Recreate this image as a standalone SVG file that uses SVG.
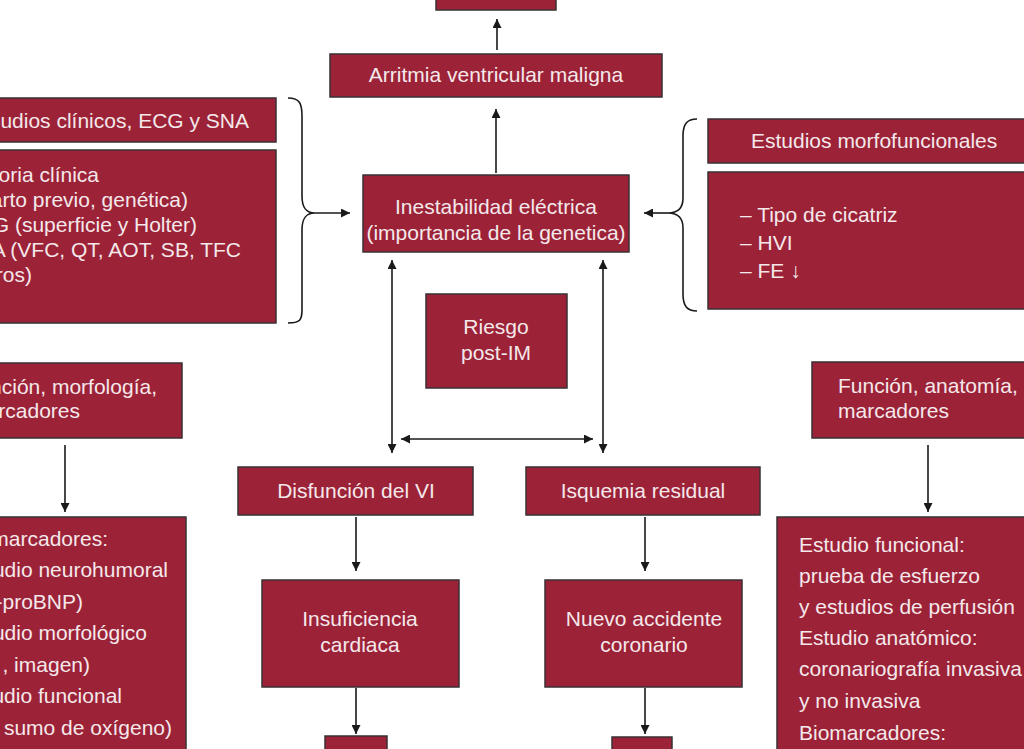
<svg xmlns="http://www.w3.org/2000/svg" width="1024" height="749" viewBox="0 0 1024 749">
<style>
.box{fill:#9c2238;stroke:#3a3035;stroke-width:1.5}
.t{font-family:"Liberation Sans",Arial,sans-serif;font-size:21px;fill:#f4e8ea}
.c{text-anchor:middle}
.e{text-anchor:end}
.ln{stroke:#1a1a1a;stroke-width:1.6;fill:none}
</style>
<defs>
<marker id="ah" viewBox="0 0 10 10" refX="10" refY="5" markerWidth="9" markerHeight="9" markerUnits="userSpaceOnUse" orient="auto-start-reverse">
<path d="M0,0 L10,5 L0,10 Z" fill="#1a1a1a"/>
</marker>
</defs>
<rect width="1024" height="749" fill="#ffffff"/>

<g id="top-box"><rect class="box" x="436" y="-5" width="120" height="15"/></g>
<g id="arritmia"><rect class="box" x="330" y="54" width="332" height="43"/><text class="t c" x="496" y="82">Arritmia ventricular maligna</text></g>
<g id="inestabilidad"><rect class="box" x="363" y="175" width="266" height="77"/><text class="t c" x="496" y="214">Inestabilidad eléctrica</text><text class="t c" x="496" y="240">(importancia de la genetica)</text></g>
<g id="riesgo"><rect class="box" x="426" y="294" width="141" height="94"/><text class="t c" x="496" y="334">Riesgo</text><text class="t c" x="496" y="360">post-IM</text></g>

<g id="estudios-clinicos"><rect class="box" x="-5" y="98" width="281" height="44"/><text class="t e" x="249" y="128">udios clínicos, ECG y SNA</text></g>
<g id="historia"><rect class="box" x="-5" y="150" width="281" height="173"/>
<text class="t e" x="99" y="182">oria clínica</text>
<text class="t e" x="188" y="207">arto previo, genética)</text>
<text class="t e" x="197" y="232">G (superficie y Holter)</text>
<text class="t e" x="241" y="257">A (VFC, QT, AOT, SB, TFC</text>
<text class="t e" x="32" y="282">ros)</text></g>

<g id="morfofuncionales"><rect class="box" x="708" y="119" width="325" height="44"/><text class="t" x="751" y="148">Estudios morfofuncionales</text></g>
<g id="cicatriz"><rect class="box" x="708" y="172" width="325" height="137"/>
<text class="t" x="740" y="222">– Tipo de cicatriz</text>
<text class="t" x="740" y="250">– HVI</text>
<text class="t" x="740" y="278">– FE ↓</text></g>

<g id="funcion-morfologia"><rect class="box" x="-5" y="363" width="187" height="75"/><text class="t e" x="157" y="394">nción, morfología,</text><text class="t e" x="80" y="418">rcadores</text></g>
<g id="biomarcadores-izq"><rect class="box" x="-5" y="517" width="191" height="240"/>
<text class="t e" x="108" y="546">marcadores:</text>
<text class="t e" x="168" y="577">udio neurohumoral</text>
<text class="t e" x="83" y="609">-proBNP)</text>
<text class="t e" x="147" y="640">udio morfológico</text>
<text class="t e" x="90" y="672">, imagen)</text>
<text class="t e" x="122" y="703">udio funcional</text>
<text class="t e" x="172" y="735">sumo de oxígeno)</text></g>

<g id="funcion-anatomia"><rect class="box" x="812" y="362" width="220" height="76"/><text class="t" x="838" y="393">Función, anatomía,</text><text class="t" x="838" y="418">marcadores</text></g>
<g id="estudio-funcional"><rect class="box" x="777" y="517" width="255" height="240"/>
<text class="t" x="799" y="552">Estudio funcional:</text>
<text class="t" x="799" y="583">prueba de esfuerzo</text>
<text class="t" x="799" y="614">y estudios de perfusión</text>
<text class="t" x="799" y="645">Estudio anatómico:</text>
<text class="t" x="799" y="676">coronariografía invasiva</text>
<text class="t" x="799" y="708">y no invasiva</text>
<text class="t" x="799" y="740">Biomarcadores:</text></g>

<g id="disfuncion"><rect class="box" x="238" y="467" width="235" height="48"/><text class="t c" x="356" y="498">Disfunción del VI</text></g>
<g id="isquemia"><rect class="box" x="526" y="467" width="234" height="48"/><text class="t c" x="643" y="498">Isquemia residual</text></g>
<g id="insuficiencia"><rect class="box" x="262" y="580" width="197" height="107"/><text class="t c" x="360" y="626">Insuficiencia</text><text class="t c" x="360" y="652">cardiaca</text></g>
<g id="nuevo-accidente"><rect class="box" x="545" y="580" width="197" height="107"/><text class="t c" x="644" y="626">Nuevo accidente</text><text class="t c" x="644" y="652">coronario</text></g>
<g id="bottom-left"><rect class="box" x="325" y="736" width="62" height="20"/></g>
<g id="bottom-right"><rect class="box" x="612" y="737" width="60" height="20"/></g>

<g id="connectors">
<path class="ln" d="M497,50 V19" marker-end="url(#ah)"/>
<path class="ln" d="M496,173 V109" marker-end="url(#ah)"/>
<path class="ln" d="M288,98 C300,98 302,104 302,116 V196 C302,208 306,213 315,213 C306,213 302,218 302,230 V310 C302,320 300,323 288,323"/>
<path class="ln" d="M315,213 H350" marker-end="url(#ah)"/>
<path class="ln" d="M697,119 C687,119 683,124 683,136 V198 C683,208 678,213 668,213 C678,213 683,218 683,228 V294 C683,306 687,311 697,311"/>
<path class="ln" d="M668,213 H644" marker-end="url(#ah)"/>
<path class="ln" d="M392,260 V453" marker-start="url(#ah)" marker-end="url(#ah)"/>
<path class="ln" d="M603,260 V453" marker-start="url(#ah)" marker-end="url(#ah)"/>
<path class="ln" d="M401,439 H593" marker-start="url(#ah)" marker-end="url(#ah)"/>
<path class="ln" d="M65,445 V512" marker-end="url(#ah)"/>
<path class="ln" d="M928,445 V512" marker-end="url(#ah)"/>
<path class="ln" d="M356,517 V571" marker-end="url(#ah)"/>
<path class="ln" d="M645,517 V571" marker-end="url(#ah)"/>
<path class="ln" d="M356,688 V734" marker-end="url(#ah)"/>
<path class="ln" d="M645,688 V734" marker-end="url(#ah)"/>
</g>
</svg>
